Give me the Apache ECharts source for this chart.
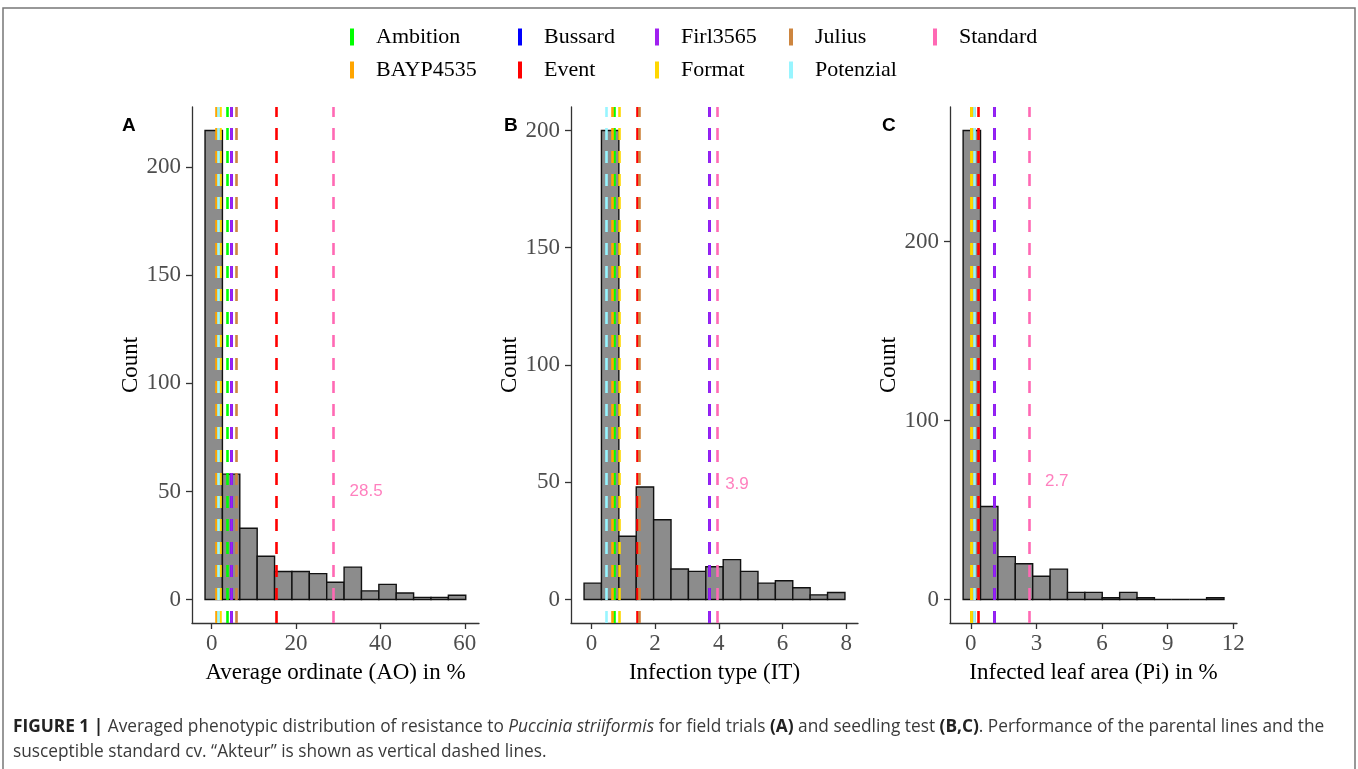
<!DOCTYPE html>
<html>
<head>
<meta charset="utf-8">
<title>Figure 1</title>
<script src="https://cdn.jsdelivr.net/npm/echarts@6/dist/echarts.min.js"></script>
<style>
  html, body { margin: 0; padding: 0; background: #fff; }
  #chart { width: 1358px; height: 769px; }
</style>
</head>
<body>
<div id="chart"></div>
<script>
// histogram counts, 15 bins per panel
var countsA = [217, 58, 33, 20, 13, 13, 12, 8, 15, 4, 7, 3, 1, 1, 2];
var countsB = [7, 200, 27, 48, 34, 13, 12, 14, 17, 12, 7, 8, 5, 2, 3];
var countsC = [262, 52, 24, 20, 13, 17, 4, 4, 1, 4, 1, 0, 0, 0, 1];
// left edge of first bin and bin width
var binStart = [-1.59, -0.23, -0.35];
var binWidth = [4.12, 0.546, 0.795];

// parental lines (value in panel A, B, C)
var varieties = ['Ambition', 'BAYP4535', 'Bussard', 'Event', 'Firl3565', 'Format', 'Julius', 'Potenzial', 'Standard'];
var varietyColors = ['#00ff00', '#ffa500', '#0000ff', '#ff0000', '#a020f0', '#ffd700', '#cd853f', '#98f5ff', '#ff69b4'];
var ambition  = [3.75, 0.73, 0.03];
var bayp4535  = [0.97, 0.65, 0.0];
var bussard   = [4.57, 3.69, 1.06];
var event     = [15.2, 1.44, 0.33];
var firl3565  = [4.57, 3.69, 1.06];
var format    = [2.0, 0.89, 0.03];
var julius    = [5.92, 1.51, 0.18];
var potenzial = [1.6, 0.47, 0.18];
var standard  = [28.8, 3.94, 2.66];
var lineValues = [ambition, bayp4535, bussard, event, firl3565, format, julius, potenzial, standard];

// text next to the standard line
var standardText = ['28.5', '3.9', '2.7'];
var standardTextX = [36.6, 4.57, 3.93];
var standardTextY = [50, 49, 66];

// axes
var xTicks = [[0, 20, 40, 60], [0, 2, 4, 6, 8], [0, 3, 6, 9, 12]];
var yTicks = [[0, 50, 100, 150, 200], [0, 50, 100, 150, 200], [0, 100, 200]];
var xRange = [[-4.68, 63.35], [-0.64, 8.37], [-0.95, 12.17]];
var yRange = [[-10.85, 227.85], [-10, 210], [-13.1, 275.1]];
var xNames = ['Average ordinate (AO) in %', 'Infection type (IT)', 'Infected leaf area (Pi) in %'];
var panelLetters = ['A', 'B', 'C'];

var counts = [countsA, countsB, countsC];
var gridLeft = [192, 571, 950];
var serif = 'Liberation Serif';
var axisColor = '#333';

var chart = echarts.init(document.getElementById('chart'));

var grids = [], xAxes = [], yAxes = [], series = [];
for (var p = 0; p < 3; p++) {
    grids.push({left: gridLeft[p], top: 107, width: 287, height: 516});
    xAxes.push({
        type: 'value', gridIndex: p, min: xRange[p][0], max: xRange[p][1],
        name: xNames[p], nameLocation: 'middle', nameGap: 38,
        nameTextStyle: {fontFamily: serif, fontSize: 23, color: '#000'},
        axisLine: {onZero: false, lineStyle: {color: axisColor, width: 1.3}},
        axisTick: {length: 6, customValues: xTicks[p], lineStyle: {color: axisColor, width: 1.3}},
        axisLabel: {customValues: xTicks[p], fontFamily: serif, fontSize: 23, color: '#4d4d4d', margin: 9},
        splitLine: {show: false}
    });
    yAxes.push({
        type: 'value', gridIndex: p, min: yRange[p][0], max: yRange[p][1],
        name: 'Count', nameLocation: 'middle', nameGap: 48,
        nameTextStyle: {fontFamily: serif, fontSize: 23, color: '#000'},
        axisLine: {show: true, onZero: false, lineStyle: {color: axisColor, width: 1.3}},
        axisTick: {show: true, length: 6, customValues: yTicks[p], lineStyle: {color: axisColor, width: 1.3}},
        axisLabel: {customValues: yTicks[p], fontFamily: serif, fontSize: 23, color: '#4d4d4d', margin: 11},
        splitLine: {show: false}
    });

    // histogram bars
    var bins = counts[p].map(function (c, i) {
        return [binStart[p] + i * binWidth[p], binStart[p] + (i + 1) * binWidth[p], c];
    });
    series.push({
        type: 'custom', xAxisIndex: p, yAxisIndex: p, data: bins, z: 2, silent: true,
        encode: {x: [0, 1], y: 2},
        renderItem: function (params, api) {
            var a = api.coord([api.value(0), api.value(2)]);
            var b = api.coord([api.value(1), 0]);
            return {
                type: 'rect',
                shape: {x: a[0], y: a[1], width: b[0] - a[0], height: b[1] - a[1]},
                style: {fill: '#8c8c8c', stroke: '#111', lineWidth: 1.4}
            };
        }
    });

    // label beside the standard line
    series.push({
        type: 'scatter', xAxisIndex: p, yAxisIndex: p, z: 5, silent: true,
        symbolSize: 1, itemStyle: {color: 'rgba(0,0,0,0)'},
        data: [[standardTextX[p], standardTextY[p], standardText[p]]],
        label: {
            show: true, position: 'inside', formatter: function (d) { return d.value[2]; },
            color: '#ff5fae', fontFamily: 'Liberation Sans', fontSize: 17
        }
    });
}

// dashed vertical lines, one series per variety and panel
varieties.forEach(function (name, k) {
    for (var p = 0; p < 3; p++) {
        series.push({
            name: name, type: 'line', xAxisIndex: p, yAxisIndex: p, data: [], z: 3,
            itemStyle: {color: varietyColors[k]}, lineStyle: {color: varietyColors[k]},
            markLine: {
                silent: true, symbol: 'none', label: {show: false},
                lineStyle: {color: varietyColors[k], type: [12, 11], width: 2.6},
                emphasis: {disabled: true},
                data: [{xAxis: lineValues[k][p]}]
            }
        });
    }
});

// legend: five columns of two rows (filled column by column)
var legendCols = [['Ambition', 'BAYP4535'], ['Bussard', 'Event'], ['Firl3565', 'Format'], ['Julius', 'Potenzial'], ['Standard']];
var legendLeft = [345, 513, 650, 784, 928];
var legends = legendCols.map(function (col, i) {
    return {
        data: col, orient: 'vertical', left: legendLeft[i], top: 21,
        icon: 'rect', itemWidth: 4, itemHeight: 17, itemGap: 11,
        selectedMode: false,
        textStyle: {fontFamily: serif, fontSize: 22, color: '#000', padding: [0, 0, 0, 17]}
    };
});

var option = {
    animation: false,
    backgroundColor: '#fff',
    grid: grids,
    xAxis: xAxes,
    yAxis: yAxes,
    legend: legends,
    series: series,
    graphic: [
        {type: 'rect', silent: true, shape: {x: 3, y: 8, width: 1352, height: 790},
            style: {fill: 'none', stroke: '#777', lineWidth: 1.5}},
        {type: 'text', left: 122, top: 116, style: {text: panelLetters[0], font: 'bold 19px Liberation Sans', fill: '#000'}},
        {type: 'text', left: 504, top: 116, style: {text: panelLetters[1], font: 'bold 19px Liberation Sans', fill: '#000'}},
        {type: 'text', left: 882, top: 116, style: {text: panelLetters[2], font: 'bold 19px Liberation Sans', fill: '#000'}},
        {type: 'text', left: 13, top: 715, style: {
            text: '{b|FIGURE 1 |} Averaged phenotypic distribution of resistance to {i|Puccinia striiformis} for field trials {b|(A)} and seedling test {b|(B,C)}. Performance of the parental lines and the\nsusceptible standard cv. \u201cAkteur\u201d is shown as vertical dashed lines.',
            font: '17.3px Open Sans', fill: '#3a3a3a', lineHeight: 25,
            rich: {
                b: {fontWeight: 'bold', fontFamily: 'Open Sans', fontSize: 17.3, fill: '#222', lineHeight: 25},
                i: {fontStyle: 'italic', fontFamily: 'Open Sans', fontSize: 17.3, fill: '#3a3a3a', lineHeight: 25}
            }
        }}
    ]
};

chart.setOption(option);
</script>
</body>
</html>
